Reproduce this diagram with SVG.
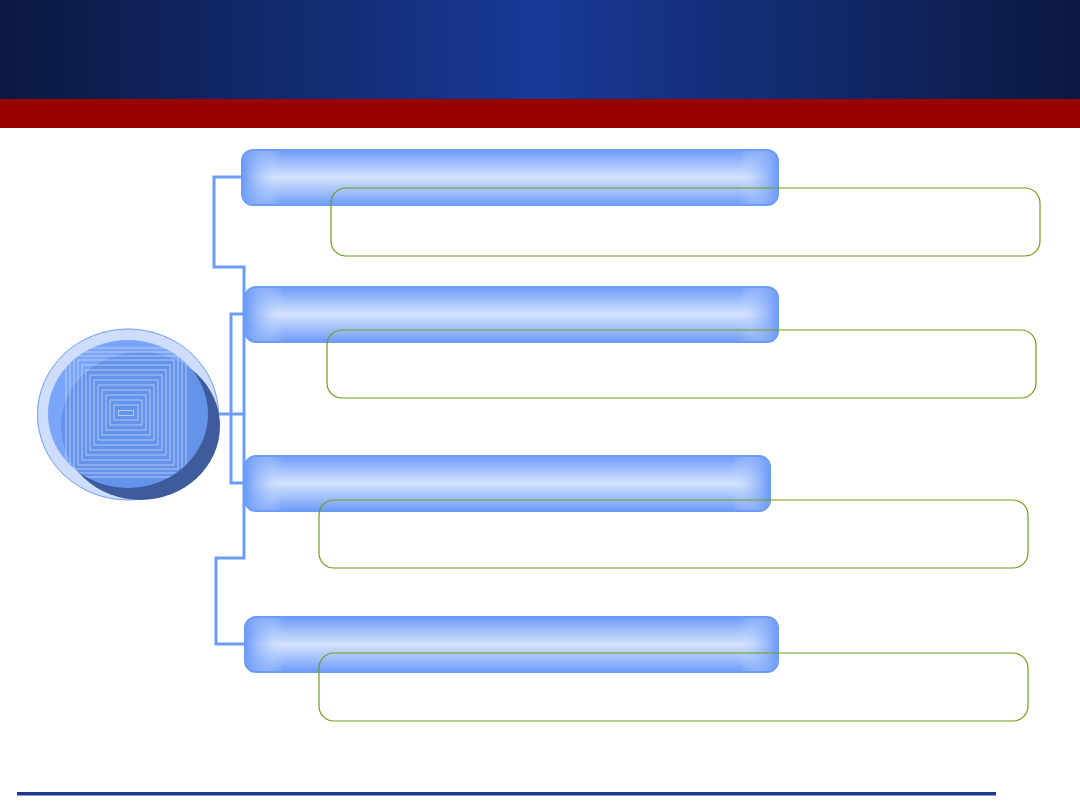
<svg xmlns="http://www.w3.org/2000/svg" width="1080" height="810" viewBox="0 0 1080 810">
<style>
.bar{stroke:#6b9cf8;stroke-width:2}
.box{fill:none;stroke:#6e9e14;stroke-width:1.2}
.conn{fill:none;stroke:#6b9cf8;stroke-width:3}
.sq{fill:none;stroke:#c4d5f8;stroke-width:1;opacity:0.8}
</style>
<defs>
<linearGradient id="hdr" x1="0" y1="0" x2="1" y2="0">
<stop offset="0" stop-color="#0b1840"/>
<stop offset="0.5" stop-color="#183a96"/>
<stop offset="1" stop-color="#0b1840"/>
</linearGradient>
<linearGradient id="bv" x1="0" y1="0" x2="0" y2="1">
<stop offset="0" stop-color="#6f9cf9"/>
<stop offset="0.5" stop-color="#d4e3fd"/>
<stop offset="1" stop-color="#6f9cf9"/>
</linearGradient>
<linearGradient id="bh" x1="0" y1="0" x2="1" y2="0">
<stop offset="0" stop-color="#6f9cf9" stop-opacity="1"/>
<stop offset="0.04" stop-color="#a6c2fb" stop-opacity="0.5"/>
<stop offset="0.07" stop-color="#d4e3fd" stop-opacity="0"/>
<stop offset="0.93" stop-color="#d4e3fd" stop-opacity="0"/>
<stop offset="0.96" stop-color="#a6c2fb" stop-opacity="0.5"/>
<stop offset="1" stop-color="#6f9cf9" stop-opacity="1"/>
</linearGradient>
<clipPath id="cc"><ellipse cx="128" cy="414" rx="80" ry="74"/></clipPath>
</defs>
<rect x="0" y="0" width="1080" height="810" fill="#ffffff"/>
<rect x="0" y="0" width="1080" height="99" fill="url(#hdr)"/>
<rect x="0" y="99" width="1080" height="29" fill="#990000"/>
<rect x="17" y="792" width="979" height="3.5" fill="#1a3a96"/>

<g id="connectors">
<path class="conn" d="M242,177 H214 V267 H244 V558 H216 V644 H245"/>
<path class="conn" d="M245,314 H231 V483 H245"/>
<path class="conn" d="M216,414 H244"/>
</g>

<g id="hub">
<ellipse cx="128" cy="414.5" rx="90.5" ry="85.5" fill="#c6d7fc" fill-opacity="0.85" stroke="#6b9cf8" stroke-width="1"/>
<ellipse cx="140.5" cy="426" rx="79.5" ry="74" fill="#3e5c9c"/>
<ellipse cx="128" cy="414" rx="80" ry="74" fill="#6b9cf8" fill-opacity="0.85"/>
<g clip-path="url(#cc)">
<rect class="sq" x="118.5" y="410.5" width="15" height="5"/>
<rect class="sq" x="114" y="405" width="24" height="15"/>
<rect class="sq" x="110" y="400" width="32" height="25"/>
<rect class="sq" x="106" y="395" width="40" height="35"/>
<rect class="sq" x="102" y="390" width="48" height="45"/>
<rect class="sq" x="98" y="385" width="56" height="55"/>
<rect class="sq" x="94" y="380" width="64" height="65"/>
<rect class="sq" x="90" y="375" width="72" height="75"/>
<rect class="sq" x="86" y="370" width="80" height="85"/>
<rect class="sq" x="82" y="365" width="88" height="95"/>
<rect class="sq" x="78" y="360" width="96" height="105"/>
<rect class="sq" x="74" y="356" width="104" height="113"/>
<rect class="sq" x="70" y="352" width="112" height="121"/>
<rect class="sq" x="66" y="348" width="120" height="129"/>
</g>
</g>

<g id="bar1">
<rect class="bar" x="242" y="150" width="536" height="55" rx="11" fill="url(#bv)"/>
<rect x="243" y="151" width="534" height="53" rx="10" fill="url(#bh)"/>
</g>
<g id="bar2">
<rect class="bar" x="245" y="287" width="533" height="55" rx="11" fill="url(#bv)"/>
<rect x="246" y="288" width="531" height="53" rx="10" fill="url(#bh)"/>
</g>
<g id="bar3">
<rect class="bar" x="245" y="456" width="525" height="55" rx="11" fill="url(#bv)"/>
<rect x="246" y="457" width="523" height="53" rx="10" fill="url(#bh)"/>
</g>
<g id="bar4">
<rect class="bar" x="245" y="617" width="533" height="55" rx="11" fill="url(#bv)"/>
<rect x="246" y="618" width="531" height="53" rx="10" fill="url(#bh)"/>
</g>

<g id="box1"><rect class="box" x="331" y="188" width="709" height="68" rx="15"/></g>
<g id="box2"><rect class="box" x="327" y="330" width="709" height="68" rx="15"/></g>
<g id="box3"><rect class="box" x="319" y="500" width="709" height="68" rx="15"/></g>
<g id="box4"><rect class="box" x="319" y="653" width="709" height="68" rx="15"/></g>
</svg>
